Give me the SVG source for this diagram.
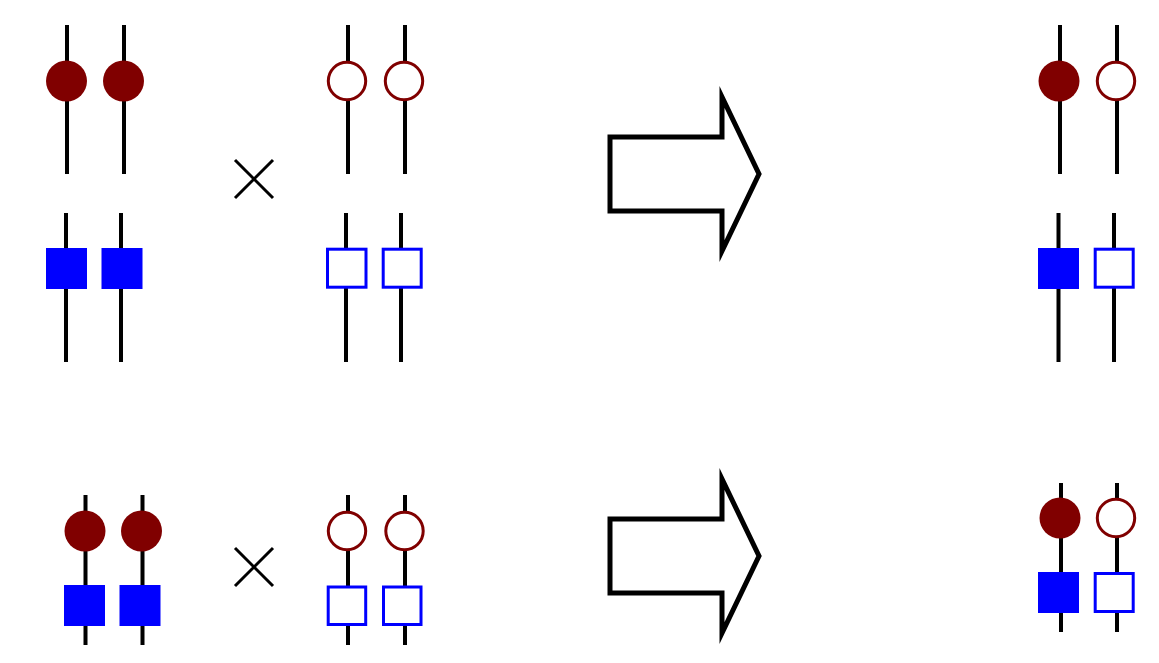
<svg xmlns="http://www.w3.org/2000/svg" width="1159" height="663" viewBox="0 0 1159 663">
<style>
.ln{stroke:#000;stroke-width:4;fill:none}
.cf{fill:#800000;stroke:none}
.co{fill:#fff;stroke:#800000;stroke-width:3}
.sf{fill:#0000ff;stroke:none}
.so{fill:#fff;stroke:#0000ff;stroke-width:3}
.x{stroke:#000;stroke-width:3;fill:none}
.arr{fill:#fff;stroke:#000;stroke-width:5;stroke-miterlimit:10}
</style>
<rect width="1159" height="663" fill="#fff"/>
<g id="p1-circles">
<line class="ln" x1="67" y1="25" x2="67" y2="174"/>
<line class="ln" x1="124" y1="25" x2="124" y2="174"/>
<circle class="cf" cx="66.5" cy="81" r="20.5"/>
<circle class="cf" cx="123.5" cy="81" r="20.5"/>
</g>
<g id="p1-squares">
<line class="ln" x1="66" y1="213" x2="66" y2="362"/>
<line class="ln" x1="121" y1="213" x2="121" y2="362"/>
<rect class="sf" x="46" y="248" width="41" height="41"/>
<rect class="sf" x="101.5" y="248" width="41" height="41"/>
</g>
<g id="cross1"><path class="x" d="M235,160 L273,198 M273,160 L235,198"/></g>
<g id="p2-circles">
<line class="ln" x1="348" y1="25" x2="348" y2="174"/>
<line class="ln" x1="405" y1="25" x2="405" y2="174"/>
<circle class="co" cx="347" cy="81" r="18.7"/>
<circle class="co" cx="404" cy="81" r="18.7"/>
</g>
<g id="p2-squares">
<line class="ln" x1="346" y1="213" x2="346" y2="362"/>
<line class="ln" x1="401" y1="213" x2="401" y2="362"/>
<rect class="so" x="327.5" y="249.2" width="38.5" height="38"/>
<rect class="so" x="383.2" y="249.2" width="38" height="38"/>
</g>
<g id="arrow1"><path class="arr" d="M610,137 H722 V97 L759,174 L722,251 V211 H610 Z"/></g>
<g id="r1-circles">
<line class="ln" x1="1060" y1="25" x2="1060" y2="174"/>
<line class="ln" x1="1117" y1="25" x2="1117" y2="174"/>
<circle class="cf" cx="1059" cy="81" r="20.5"/>
<circle class="co" cx="1116" cy="81" r="18.7"/>
</g>
<g id="r1-squares">
<line class="ln" x1="1058.5" y1="213" x2="1058.5" y2="362"/>
<line class="ln" x1="1114" y1="213" x2="1114" y2="362"/>
<rect class="sf" x="1038" y="248" width="41" height="41"/>
<rect class="so" x="1095.2" y="249.2" width="38" height="38"/>
</g>
<g id="p3">
<line class="ln" x1="85.5" y1="495" x2="85.5" y2="645"/>
<line class="ln" x1="142.5" y1="495" x2="142.5" y2="645"/>
<circle class="cf" cx="85" cy="531" r="20.5"/>
<circle class="cf" cx="141.5" cy="531" r="20.5"/>
<rect class="sf" x="64" y="585" width="41" height="41"/>
<rect class="sf" x="119.5" y="585" width="41" height="41"/>
</g>
<g id="cross2"><path class="x" d="M235,548 L273,586 M273,548 L235,586"/></g>
<g id="p4">
<line class="ln" x1="348" y1="495" x2="348" y2="645"/>
<line class="ln" x1="405" y1="495" x2="405" y2="645"/>
<circle class="co" cx="347" cy="531" r="18.7"/>
<circle class="co" cx="404.5" cy="531" r="18.7"/>
<rect class="so" x="328.2" y="587" width="37.5" height="37.5"/>
<rect class="so" x="383.5" y="587" width="37.5" height="37.5"/>
</g>
<g id="arrow2"><path class="arr" d="M610,519 H722 V479 L759,556 L722,633 V593 H610 Z"/></g>
<g id="r2">
<line class="ln" x1="1061" y1="483" x2="1061" y2="632"/>
<line class="ln" x1="1117" y1="483" x2="1117" y2="632"/>
<circle class="cf" cx="1060" cy="518" r="20.5"/>
<circle class="co" cx="1116" cy="518" r="18.7"/>
<rect class="sf" x="1038" y="572" width="41" height="41"/>
<rect class="so" x="1095.2" y="573.5" width="38" height="38"/>
</g>
</svg>
